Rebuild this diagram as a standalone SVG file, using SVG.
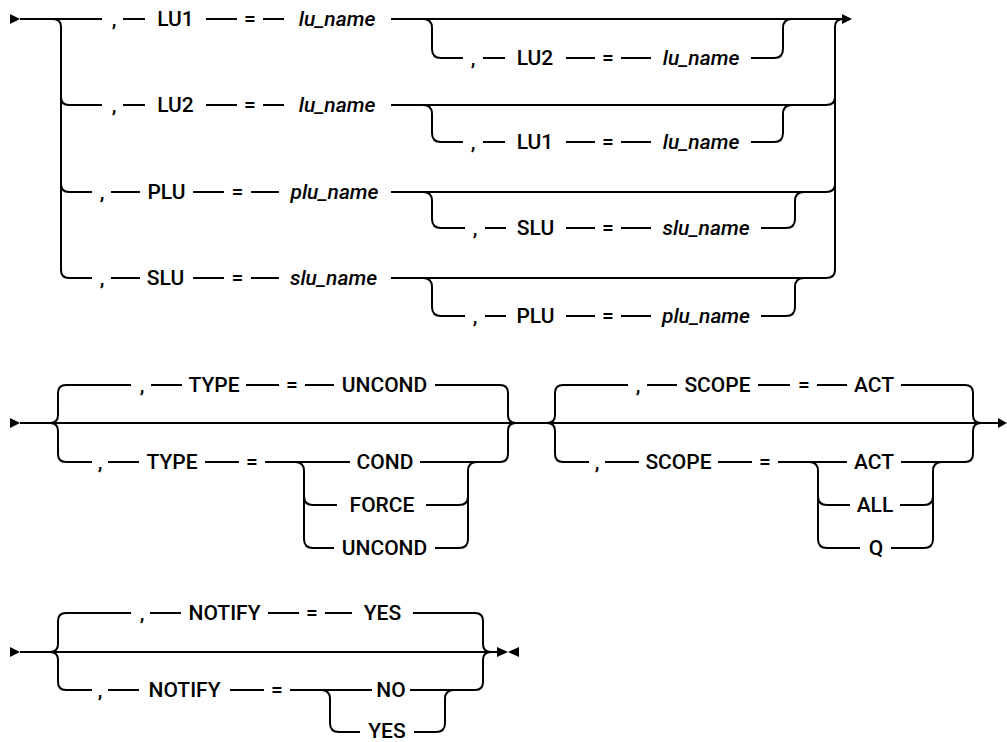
<svg xmlns="http://www.w3.org/2000/svg" width="1007" height="742" viewBox="0 0 1007 742">
<style>
.ln{fill:none;stroke:#000;stroke-width:2}
.ah{fill:#000;stroke:none}
text{font-family:Roboto,"Liberation Sans",sans-serif;font-size:21px;font-weight:500;text-anchor:middle;fill:#000}
.i{font-style:italic}
</style>
<g id="connectors">
<!-- section 1 -->
<polygon class="ah" points="10,14 20,19 10,24"/>
<polygon class="ah" points="842,14 852,19 842,24"/>
<path class="ln" d="M20,19 H102 M123,19 H145 M206,19 H237 M263,19 H284 M391,19 H842"/>
<path class="ln" d="M53,19 Q61,19 61,27 V270 Q61,278 69,278 M61,97 Q61,105 69,105 M61,184 Q61,192 69,192"/>
<path class="ln" d="M69,105 H102 M123,105 H145 M206,105 H237 M263,105 H284 M391,105 H826 Q835,105 835,97"/>
<path class="ln" d="M69,192 H92 M111,192 H140 M193,192 H224 M251,192 H279 M391,192 H826 Q835,192 835,184"/>
<path class="ln" d="M69,278 H92 M111,278 H140 M193,278 H224 M251,278 H279 M391,278 H826 Q835,278 835,270"/>
<path class="ln" d="M843,19 Q835,19 835,27 V270"/>
<path class="ln" d="M423,19 Q432,19 432,28 V49 Q432,58 441,58 H463 M483,58 H505 M566,58 H595 M621,58 H651 M751,58 H774 Q783,58 783,49 V28 Q783,19 792,19"/>
<path class="ln" d="M423,105 Q432,105 432,114 V133 Q432,142 441,142 H463 M483,142 H505 M566,142 H595 M621,142 H651 M751,142 H774 Q783,142 783,133 V114 Q783,105 792,105"/>
<path class="ln" d="M423,192 Q432,192 432,201 V219 Q432,228 441,228 H465 M485,228 H506 M566,228 H595 M621,228 H651 M761,228 H786 Q795,228 795,219 V201 Q795,192 804,192"/>
<path class="ln" d="M423,278 Q432,278 432,287 V307 Q432,316 441,316 H465 M485,316 H506 M566,316 H595 M621,316 H651 M761,316 H786 Q795,316 795,307 V287 Q795,278 804,278"/>
<!-- section 2 -->
<polygon class="ah" points="10,418 20,423 10,428"/>
<polygon class="ah" points="998,418 1007,423 998,428"/>
<path class="ln" d="M20,423 H998"/>
<path class="ln" d="M66,385 Q58,385 58,393 V415 Q58,423 50,423 Q58,423 58,431 V454 Q58,462 66,462"/>
<path class="ln" d="M500,385 Q508,385 508,393 V415 Q508,423 516,423 Q508,423 508,431 V454 Q508,462 500,462"/>
<path class="ln" d="M66,385 H131 M151,385 H182 M246,385 H279 M305,385 H334 M435,385 H500"/>
<path class="ln" d="M66,462 H92 M108,462 H139 M205,462 H239 M265,462 H350 M420,462 H500"/>
<path class="ln" d="M295,462 Q304,462 304,471 V539 Q304,548 313,548 H334 M435,548 H459 Q468,548 468,539 V471 Q468,462 477,462"/>
<path class="ln" d="M304,496 Q304,505 313,505 H337 M426,505 H459 Q468,505 468,496"/>
<path class="ln" d="M563,385 Q555,385 555,393 V415 Q555,423 547,423 Q555,423 555,431 V454 Q555,462 563,462"/>
<path class="ln" d="M965,385 Q973,385 973,393 V415 Q973,423 981,423 Q973,423 973,431 V454 Q973,462 965,462"/>
<path class="ln" d="M563,385 H628 M647,385 H677 M758,385 H790 M817,385 H847 M901,385 H965"/>
<path class="ln" d="M563,462 H589 M605,462 H639 M718,462 H752 M778,462 H847 M901,462 H965"/>
<path class="ln" d="M809,462 Q818,462 818,471 V539 Q818,548 827,548 H860 M891,548 H924 Q933,548 933,539 V471 Q933,462 942,462"/>
<path class="ln" d="M818,496 Q818,505 827,505 H850 M900,505 H924 Q933,505 933,496"/>
<!-- section 3 -->
<polygon class="ah" points="10,647 20,652 10,657"/>
<polygon class="ah" points="497,647 508,652 497,657"/>
<polygon class="ah" points="519,647 508,652 519,657"/>
<path class="ln" d="M20,652 H497"/>
<path class="ln" d="M66,613 Q58,613 58,621 V644 Q58,652 50,652 Q58,652 58,660 V682 Q58,690 66,690"/>
<path class="ln" d="M475,613 Q483,613 483,621 V644 Q483,652 491,652 Q483,652 483,660 V682 Q483,690 475,690"/>
<path class="ln" d="M66,613 H131 M150,613 H181 M268,613 H299 M325,613 H352 M413,613 H475"/>
<path class="ln" d="M66,690 H92 M108,690 H139 M230,690 H264 M290,690 H372 M410,690 H475"/>
<path class="ln" d="M321,690 Q330,690 330,699 V723 Q330,732 339,732 H360 M414,732 H436 Q445,732 445,723 V699 Q445,690 454,690"/>
</g>
<!-- section 1 nodes -->
<g id="r1-comma"><text x="114" y="26">,</text></g>
<g id="r1-lu1"><text x="175.5" y="26">LU1</text></g>
<g id="r1-eq"><text x="250" y="26">=</text></g>
<g id="r1-name"><text class="i" x="337" y="26">lu_name</text></g>
<g id="r1s-comma"><text x="473" y="65">,</text></g>
<g id="r1s-lu2"><text x="535" y="65">LU2</text></g>
<g id="r1s-eq"><text x="608" y="65">=</text></g>
<g id="r1s-name"><text class="i" x="701" y="65">lu_name</text></g>
<g id="r2-comma"><text x="114" y="112">,</text></g>
<g id="r2-lu2"><text x="175.5" y="112">LU2</text></g>
<g id="r2-eq"><text x="250" y="112">=</text></g>
<g id="r2-name"><text class="i" x="337" y="112">lu_name</text></g>
<g id="r2s-comma"><text x="473" y="149">,</text></g>
<g id="r2s-lu1"><text x="535" y="149">LU1</text></g>
<g id="r2s-eq"><text x="608" y="149">=</text></g>
<g id="r2s-name"><text class="i" x="701" y="149">lu_name</text></g>
<g id="r3-comma"><text x="102" y="199">,</text></g>
<g id="r3-plu"><text x="166.5" y="199">PLU</text></g>
<g id="r3-eq"><text x="237.5" y="199">=</text></g>
<g id="r3-name"><text class="i" x="334.5" y="199">plu_name</text></g>
<g id="r3s-comma"><text x="475" y="235">,</text></g>
<g id="r3s-slu"><text x="535.5" y="235">SLU</text></g>
<g id="r3s-eq"><text x="608" y="235">=</text></g>
<g id="r3s-name"><text class="i" x="706" y="235">slu_name</text></g>
<g id="r4-comma"><text x="102" y="285">,</text></g>
<g id="r4-slu"><text x="165.5" y="285">SLU</text></g>
<g id="r4-eq"><text x="237.5" y="285">=</text></g>
<g id="r4-name"><text class="i" x="333.5" y="285">slu_name</text></g>
<g id="r4s-comma"><text x="475" y="323">,</text></g>
<g id="r4s-plu"><text x="535.5" y="323">PLU</text></g>
<g id="r4s-eq"><text x="608" y="323">=</text></g>
<g id="r4s-name"><text class="i" x="706" y="323">plu_name</text></g>
<!-- section 2 nodes -->
<g id="t1-comma"><text x="142" y="392">,</text></g>
<g id="t1-type"><text x="214" y="392">TYPE</text></g>
<g id="t1-eq"><text x="292" y="392">=</text></g>
<g id="t1-uncond"><text x="384.5" y="392">UNCOND</text></g>
<g id="t2-comma"><text x="100" y="469">,</text></g>
<g id="t2-type"><text x="172" y="469">TYPE</text></g>
<g id="t2-eq"><text x="252" y="469">=</text></g>
<g id="t2-cond"><text x="385" y="469">COND</text></g>
<g id="t2-force"><text x="382" y="512">FORCE</text></g>
<g id="t2-uncond"><text x="384.5" y="555">UNCOND</text></g>
<g id="s1-comma"><text x="638" y="392">,</text></g>
<g id="s1-scope"><text x="717.5" y="392">SCOPE</text></g>
<g id="s1-eq"><text x="804" y="392">=</text></g>
<g id="s1-act"><text x="874" y="392">ACT</text></g>
<g id="s2-comma"><text x="597" y="469">,</text></g>
<g id="s2-scope"><text x="678.5" y="469">SCOPE</text></g>
<g id="s2-eq"><text x="765" y="469">=</text></g>
<g id="s2-act"><text x="874" y="469">ACT</text></g>
<g id="s2-all"><text x="875" y="512">ALL</text></g>
<g id="s2-q"><text x="876" y="555">Q</text></g>
<!-- section 3 nodes -->
<g id="n1-comma"><text x="142" y="620">,</text></g>
<g id="n1-notify"><text x="224.5" y="620">NOTIFY</text></g>
<g id="n1-eq"><text x="312" y="620">=</text></g>
<g id="n1-yes"><text x="382.5" y="620">YES</text></g>
<g id="n2-comma"><text x="100" y="697">,</text></g>
<g id="n2-notify"><text x="184.5" y="697">NOTIFY</text></g>
<g id="n2-eq"><text x="277" y="697">=</text></g>
<g id="n2-no"><text x="391" y="697">NO</text></g>
<g id="n2-yes"><text x="387" y="738">YES</text></g>
</svg>
